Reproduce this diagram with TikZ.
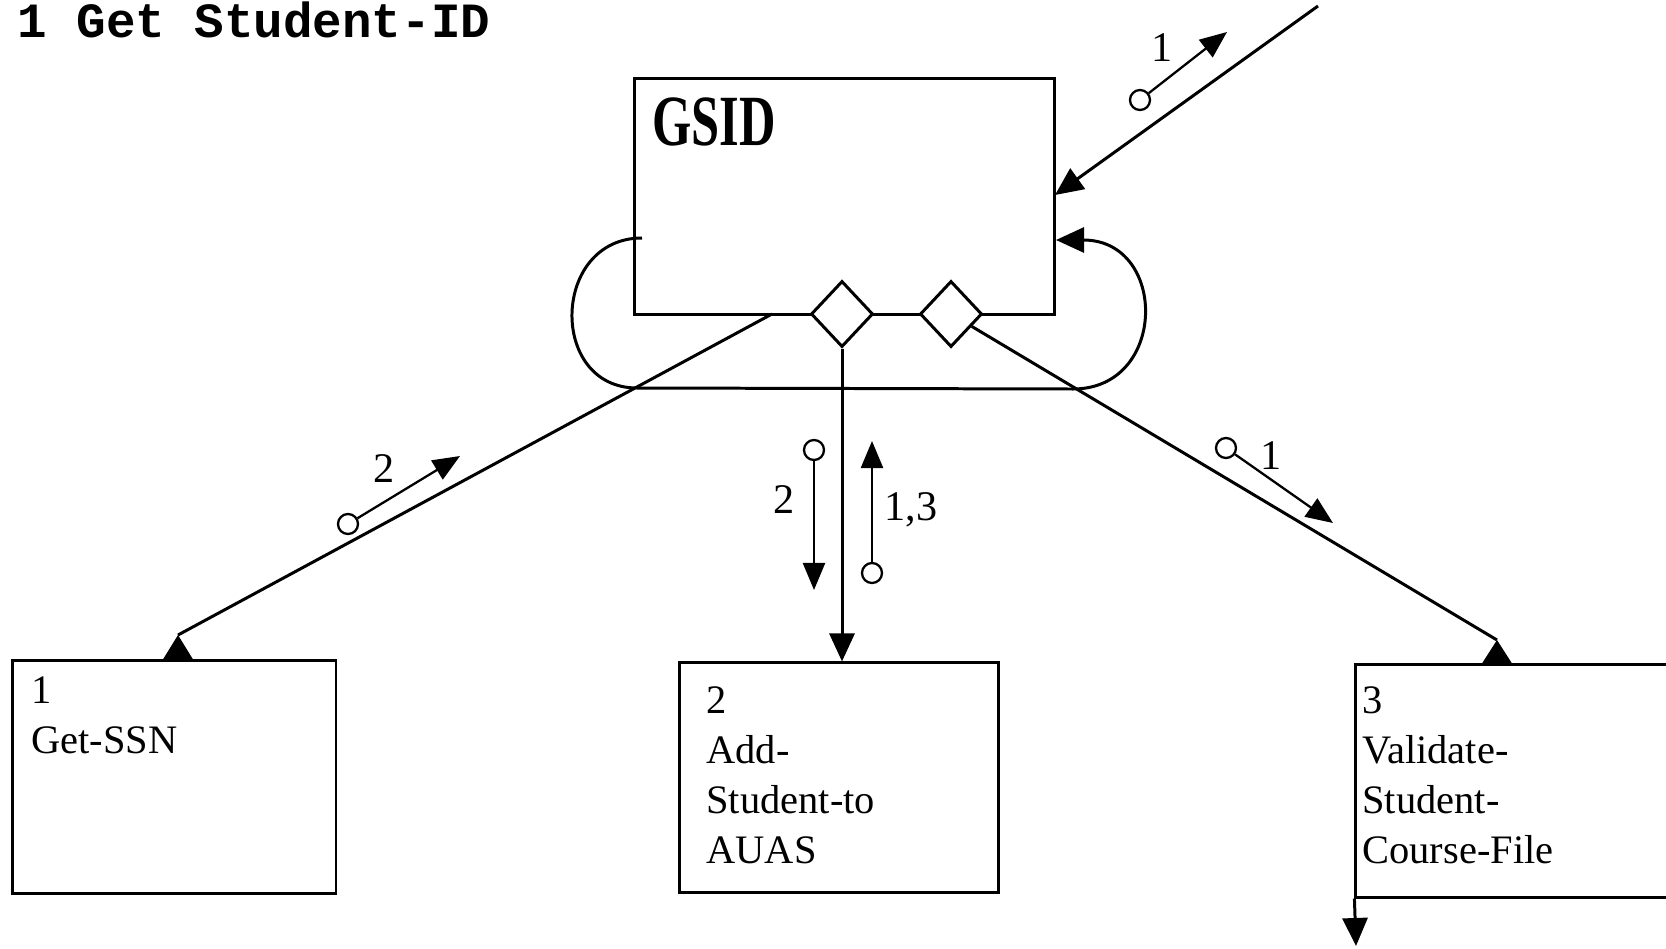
\documentclass[tikz,border=0pt]{standalone}
\usepackage{fontspec}
\setmainfont{Liberation Serif}
\newfontfamily\titlefont{Liberation Mono}
\usetikzlibrary{shapes.geometric, arrows.meta, positioning}

\begin{document}
\begin{tikzpicture}[x=0.01cm, y=-0.01cm, line width=0.85pt,
    box/.style={rectangle, draw, inner sep=0pt},
    port/.style={diamond, draw, fill=white, inner sep=0pt,
                 minimum width=0.62cm, minimum height=0.66cm},
    couple/.style={circle, draw, line width=0.65pt, inner sep=0pt, minimum size=0.2cm},
    txt/.style={anchor=north west, inner sep=0pt, align=left,
                font=\fontsize{11.5}{14.2}\selectfont},
    num/.style={inner sep=0pt, font=\fontsize{12}{12}\selectfont},
    arrow/.style={-{Triangle[length=0.28cm, width=0.25cm]}},
    flag/.style={-{Triangle[length=0.27cm, width=0.22cm]}, line width=0.65pt},
]
\useasboundingbox (0,0) rectangle (1666,948);

\node[anchor=base west, inner sep=0pt, font=\titlefont\bfseries\fontsize{14}{14}\selectfont]
    (title) at (16,37) {1 Get Student-ID};

% parent module and its two ports
\node[box, minimum width=4.19cm, minimum height=2.35cm] (gsid) at (844.5,196.5) {};
\node[anchor=north west, inner sep=0pt, font=\bfseries\fontsize{20.5}{20.5}\selectfont]
    (gsidname) at (651,96) {\scalebox{0.7}[1]{GSID}};

% the loop
\coordinate (loopout) at (642,238);
\coordinate (loopin)  at (1056,240);
\draw[arrow] (loopout) .. controls (551,238) and (548,388) .. (637,388)
    -- (1073,389) .. controls (1168,389) and (1168,240) .. (loopin);

\node[port] (d1) at (842,314) {};
\node[port] (d2) at (951,314) {};

% called modules
\node[box, minimum width=3.23cm, minimum height=2.32cm]   (ssn)  at (174.4,777)    {};
\node[box, minimum width=3.185cm, minimum height=2.295cm] (auas) at (839.25,777.75) {};
\node[box, minimum width=3.2cm, minimum height=2.32cm]    (vscf) at (1516,781)     {};
\node[txt] (ssntxt)  at (30,675)   {1\\Get-SSN};
\node[txt] (auastxt) at (705,685)  {2\\Add-\\Student-to\\AUAS};
\node[txt] (vscftxt) at (1361,685) {3\\Validate-\\Student-\\Course-File};

% calls
\coordinate (inlet) at (1318,6);
\coordinate (inend) at (1055,195);
\draw[arrow] (inlet) -- (inend);

\coordinate (ssnout)  at (772,314);
\coordinate (ssnhead) at (178,635);
\draw (ssnout) -- (ssnhead);
\fill (ssnhead) -- ++(-16,26) -- ++(32,0) -- cycle;

\draw[arrow] (d1.south) -- (d1.south |- auas.north);

\coordinate (vscfhead) at (1497,640);
\draw (d2) -- (vscfhead);
\fill (vscfhead) -- ++(-16,25) -- ++(32,0) -- cycle;

\coordinate (vscfout) at (1356,946);
\draw[arrow] (vscf.south west) -- (vscfout);

% couples
\node[couple] (cin) at (1140,100) {};
\coordinate (cintip) at (1227,32);
\draw[flag] (cin) -- (cintip);
\node[num] (lin) at (1162,48) {1};

\node[couple] (cssn) at (348,524) {};
\coordinate (cssntip) at (460,456);
\draw[flag] (cssn) -- (cssntip);
\node[num] (lssn) at (384,469) {2};

\node[couple] (cdown) at (814,450) {};
\coordinate (cdowntip) at (814,590);
\draw[flag] (cdown) -- (cdowntip);
\node[num] (ldown) at (784,500) {2};

\node[couple] (cup) at (872,573) {};
\coordinate (cuptip) at (872,441);
\draw[flag] (cup) -- (cuptip);
\node[num] (lup) at (911,510) {1,3};

\node[couple] (cvs) at (1226,448) {};
\coordinate (cvstip) at (1333,523);
\draw[flag] (cvs) -- (cvstip);
\node[num] (lvs) at (1271,456) {1};
\end{tikzpicture}
\end{document}
